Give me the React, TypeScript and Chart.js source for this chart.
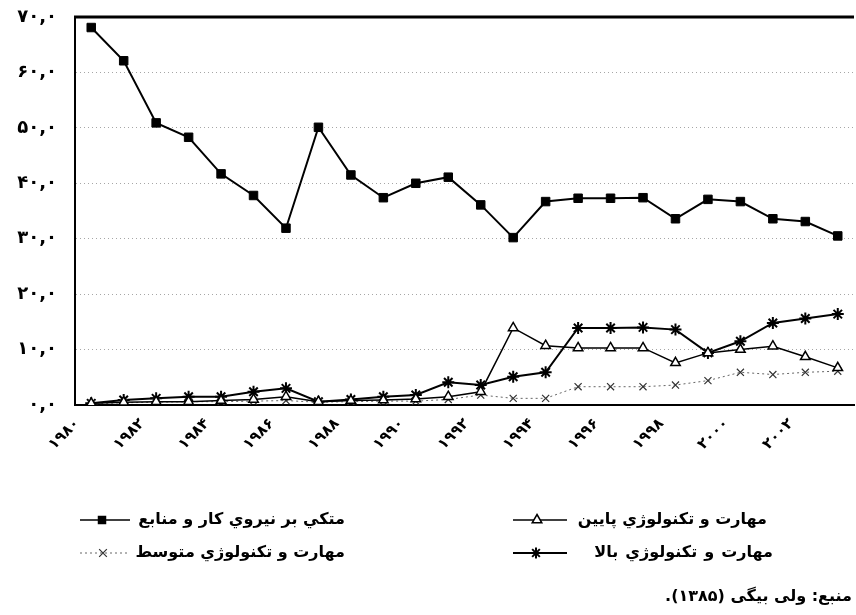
import React, { useEffect, useRef } from 'react';
import { Chart, registerables } from 'chart.js';

Chart.register(...registerables);

const years = [
  '۱۹۸۰', '۱۹۸۱', '۱۹۸۲', '۱۹۸۳', '۱۹۸۴', '۱۹۸۵', '۱۹۸۶', '۱۹۸۷',
  '۱۹۸۸', '۱۹۸۹', '۱۹۹۰', '۱۹۹۱', '۱۹۹۲', '۱۹۹۳', '۱۹۹۴', '۱۹۹۵',
  '۱۹۹۶', '۱۹۹۷', '۱۹۹۸', '۱۹۹۹', '۲۰۰۰', '۲۰۰۱', '۲۰۰۲', '۲۰۰۳',
];

const labourResource = [68.1, 62.1, 50.9, 48.3, 41.7, 37.8, 31.9, 50.1, 41.5, 37.4, 40.0, 41.1, 36.1, 30.2, 36.7, 37.3, 37.3, 37.4, 33.6, 37.1, 36.7, 33.6, 33.1, 30.5];
const lowTech = [0.3, 0.5, 0.6, 0.6, 0.8, 1.0, 1.5, 0.6, 0.8, 0.9, 1.1, 1.5, 2.4, 13.9, 10.7, 10.3, 10.3, 10.3, 7.6, 9.4, 10.0, 10.6, 8.7, 6.7];
const mediumTech = [0.2, 0.4, 0.5, 0.6, 0.6, 0.7, 0.8, 0.5, 0.6, 0.7, 0.7, 1.0, 1.8, 1.2, 1.2, 3.3, 3.3, 3.3, 3.6, 4.4, 5.9, 5.5, 5.9, 6.1];
const highTech = [0.3, 0.9, 1.2, 1.5, 1.5, 2.4, 3.0, 0.6, 1.0, 1.5, 1.8, 4.1, 3.6, 5.1, 5.9, 13.9, 13.9, 14.0, 13.6, 9.4, 11.5, 14.8, 15.6, 16.4];

const yTickLabels = ['۰,۰', '۱۰,۰', '۲۰,۰', '۳۰,۰', '۴۰,۰', '۵۰,۰', '۶۰,۰', '۷۰,۰'];

const seriesNames = [
  'متكي بر نيروي كار و منابع',
  'مهارت و تكنولوژي پايين',
  'مهارت و تكنولوژي متوسط',
  'مهارت و تكنولوژي بالا',
];

const sourceText = 'منبع: ولی بیگی (۱۳۸۵).';

const FONT = '"DejaVu Sans", sans-serif';

function drawMarker(ctx: CanvasRenderingContext2D, style: string, x: number, y: number, r: number) {
  ctx.save();
  ctx.setLineDash([]);
  ctx.strokeStyle = '#000';
  ctx.fillStyle = '#000';
  if (style === 'rect') {
    const s = r * Math.SQRT1_2;
    ctx.fillRect(x - s, y - s, 2 * s, 2 * s);
  } else if (style === 'triangle') {
    ctx.fillStyle = '#fff';
    ctx.lineWidth = 1.5;
    ctx.beginPath();
    ctx.moveTo(x, y - r);
    ctx.lineTo(x + r * 0.87, y + r * 0.5);
    ctx.lineTo(x - r * 0.87, y + r * 0.5);
    ctx.closePath();
    ctx.fill();
    ctx.stroke();
  } else if (style === 'crossRot') {
    ctx.lineWidth = 1.2;
    ctx.strokeStyle = '#333';
    const s = r * 0.7;
    ctx.beginPath();
    ctx.moveTo(x - s, y - s); ctx.lineTo(x + s, y + s);
    ctx.moveTo(x + s, y - s); ctx.lineTo(x - s, y + s);
    ctx.stroke();
  } else if (style === 'star') {
    ctx.lineWidth = 2;
    const s = r * 0.7;
    ctx.beginPath();
    ctx.moveTo(x - r, y); ctx.lineTo(x + r, y);
    ctx.moveTo(x, y - r); ctx.lineTo(x, y + r);
    ctx.moveTo(x - s, y - s); ctx.lineTo(x + s, y + s);
    ctx.moveTo(x + s, y - s); ctx.lineTo(x - s, y + s);
    ctx.stroke();
  }
  ctx.restore();
}

const legendItems = [
  { name: seriesNames[0], style: 'rect', x1: 80, x2: 130, mx: 102, y: 520, textRight: 345, dash: [] as number[], color: '#000', width: 1.5 },
  { name: seriesNames[2], style: 'crossRot', x1: 80, x2: 130, mx: 103, y: 553, textRight: 345, dash: [2, 3], color: '#666', width: 1 },
  { name: seriesNames[1], style: 'triangle', x1: 513, x2: 567, mx: 537, y: 520, textRight: 767, dash: [] as number[], color: '#000', width: 1.5 },
  { name: seriesNames[3], style: 'star', x1: 513, x2: 567, mx: 536, y: 553, textRight: 773, dash: [] as number[], color: '#000', width: 2 },
];

const framePlugin = {
  id: 'frameAndLegend',
  afterDraw(chart: any) {
    const { ctx, chartArea } = chart;
    ctx.save();
    ctx.strokeStyle = '#000';
    ctx.lineWidth = 3;
    ctx.beginPath();
    ctx.moveTo(chartArea.left - 1, chartArea.top);
    ctx.lineTo(chartArea.right, chartArea.top);
    ctx.stroke();

    for (const it of legendItems) {
      ctx.save();
      ctx.strokeStyle = it.color;
      ctx.lineWidth = it.width;
      ctx.setLineDash(it.dash);
      ctx.beginPath();
      ctx.moveTo(it.x1, it.y);
      ctx.lineTo(it.x2, it.y);
      ctx.stroke();
      ctx.restore();
      drawMarker(ctx, it.style, it.mx, it.y, it.style === 'rect' ? 6 : 5.5);
      ctx.save();
      ctx.fillStyle = '#000';
      ctx.font = `bold 16px ${FONT}`;
      (ctx as any).direction = 'rtl';
      if (it.style === 'star') (ctx as any).letterSpacing = '1.5px';
      ctx.textAlign = 'right';
      ctx.textBaseline = 'middle';
      ctx.fillText(it.name, it.textRight, it.y);
      ctx.restore();
    }

    ctx.fillStyle = '#000';
    ctx.font = `bold 16px ${FONT}`;
    (ctx as any).direction = 'rtl';
    ctx.textAlign = 'right';
    ctx.textBaseline = 'middle';
    ctx.fillText(sourceText, 852, 597);
    ctx.restore();
  },
};

export default function App() {
  const canvasRef = useRef<HTMLCanvasElement | null>(null);

  useEffect(() => {
    if (!canvasRef.current) return;
    const chart = new Chart(canvasRef.current, {
      type: 'line',
      data: {
        labels: years,
        datasets: [
          {
            label: seriesNames[0],
            data: labourResource,
            borderColor: '#000',
            backgroundColor: '#000',
            borderWidth: 2,
            pointStyle: 'rect',
            pointRadius: 6,
            pointBackgroundColor: '#000',
            pointBorderColor: '#000',
            pointBorderWidth: 1,
            tension: 0,
          },
          {
            label: seriesNames[1],
            data: lowTech,
            borderColor: '#000',
            borderWidth: 1.5,
            pointStyle: 'triangle',
            pointRadius: 5.5,
            pointBackgroundColor: '#fff',
            pointBorderColor: '#000',
            pointBorderWidth: 1.5,
            tension: 0,
          },
          {
            label: seriesNames[2],
            data: mediumTech,
            borderColor: '#666',
            borderWidth: 1,
            borderDash: [2, 3],
            pointStyle: 'crossRot',
            pointRadius: 5,
            pointBackgroundColor: '#333',
            pointBorderColor: '#333',
            pointBorderWidth: 1.2,
            tension: 0,
          },
          {
            label: seriesNames[3],
            data: highTech,
            borderColor: '#000',
            borderWidth: 2,
            pointStyle: 'star',
            pointRadius: 6,
            pointBackgroundColor: '#000',
            pointBorderColor: '#000',
            pointBorderWidth: 2,
            tension: 0,
          },
        ],
      },
      options: {
        animation: false,
        responsive: true,
        maintainAspectRatio: false,
        layout: { padding: { top: 17, left: 0, right: 0, bottom: 0 } },
        plugins: {
          legend: { display: false },
          tooltip: { enabled: false },
        },
        scales: {
          x: {
            type: 'category',
            offset: true,
            grid: { display: false, drawTicks: false },
            border: { display: true, color: '#000', width: 2 },
            ticks: {
              autoSkip: false,
              maxRotation: 45,
              minRotation: 45,
              labelOffset: -14,
              padding: 10,
              color: '#000',
              font: { family: FONT, size: 15, weight: 'bold' },
              callback: (_v: any, i: number) => (i % 2 === 0 ? years[i] : ''),
            },
            afterFit: (s: any) => {
              s.height = 210;
              s.paddingLeft = 0;
              s.paddingRight = 0;
            },
          },
          y: {
            min: 0,
            max: 70,
            grid: { color: 'rgba(0,0,0,0.35)', lineWidth: 1, drawTicks: false },
            border: { display: true, color: '#000', width: 2, dash: [1, 3] },
            ticks: {
              stepSize: 10,
              padding: 18,
              color: '#000',
              font: { family: FONT, size: 18, weight: 'bold' },
              callback: (v: any) => yTickLabels[Math.round(Number(v) / 10)] ?? '',
            },
            afterFit: (s: any) => {
              s.width = 75;
              s.paddingTop = 0;
              s.paddingBottom = 0;
            },
          },
        },
      } as any,
      plugins: [framePlugin],
    });
    return () => chart.destroy();
  }, []);

  return (
    <div style={{ position: 'fixed', left: 0, top: 0, width: 856, height: 615, overflow: 'hidden', background: '#fff' }}>
      <div style={{ position: 'relative', width: 862, height: 615 }}>
        <canvas ref={canvasRef} />
      </div>
    </div>
  );
}
